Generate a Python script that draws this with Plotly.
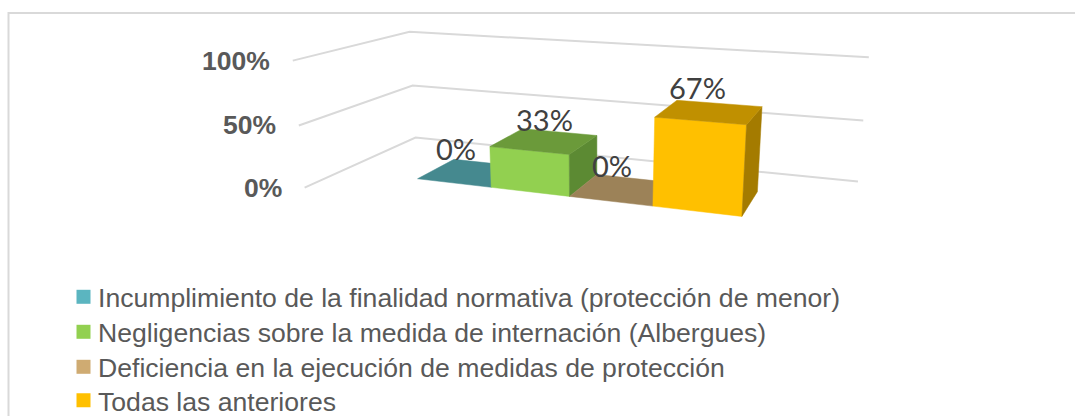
import numpy as np
import plotly.graph_objects as go

series = ["Incumplimiento de la finalidad normativa (protección de menor)",
          "Negligencias sobre la medida de internación (Albergues)",
          "Deficiencia en la ejecución de medidas de protección",
          "Todas las anteriores"]
values = [0, 33, 0, 67]
labels = ["0%", "33%", "0%", "67%"]
ticks = [0, 50, 100]
tick_text = ["0%", "50%", "100%"]
legend_colors = ["#5BB5C0", "#92D050", "#CFAB72", "#FFC000"]
front_colors = ["#5BB5C0", "#92D050", "#CFAB72", "#FFC000"]
top_colors = ["#45898F", "#6B9A3A", "#9C8258", "#C09000"]
side_colors = ["#3F7D82", "#5C8A33", "#8A7350", "#A47B00"]

# Camera of the 3-D chart: world (series position, depth, share of 100%) -> page pixels
CAMERA = np.array([[59.0387663, 70.6387438, -22.7892834, 417.5553495],
                   [2.989786, -7.4160847, -125.3985947, 178.7506934],
                   [-0.0297218, 0.0752771, -0.0386178, 1.0]])
XLO, XHI, YLO, YHI = -1.0694, 5.0743, -0.8408, 1.8878

def project(points):
    pts = np.array(points, dtype=float)
    h = CAMERA @ np.c_[pts, np.ones(len(pts))].T
    return h[0] / h[2], h[1] / h[2]

def polygon(points, color):
    x, y = project(points + points[:1])
    return go.Scatter(x=x, y=y, mode="lines", fill="toself", fillcolor=color,
                      line=dict(color=color, width=0.5), hoverinfo="skip", showlegend=False)

fig = go.Figure()
for t in ticks:
    z = t / 100
    x, y = project([(XLO, YLO, z), (XLO, YHI, z), (XHI, YHI, z)])
    fig.add_trace(go.Scatter(x=x, y=y, mode="lines", line=dict(color="#D9D9D9", width=2),
                             hoverinfo="skip", showlegend=False))
for i, v in enumerate(values):
    h = v / 100
    if h > 0:
        fig.add_trace(polygon([(i, 0, 0), (i + 1, 0, 0), (i + 1, 0, h), (i, 0, h)], front_colors[i]))
        fig.add_trace(polygon([(i + 1, 0, 0), (i + 1, 1, 0), (i + 1, 1, h), (i + 1, 0, h)], side_colors[i]))
    fig.add_trace(polygon([(i, 0, h), (i + 1, 0, h), (i + 1, 1, h), (i, 1, h)], top_colors[i]))

annotations = []
label_offsets = [(-16, -24), (0, -21), (-11, -24), (-12, -24)]
for i, v in enumerate(values):
    x, y = project([(i + .5, .5, v / 100)])
    annotations.append(dict(x=x[0], y=y[0], xref="x", yref="y", text=labels[i], showarrow=False,
                            xshift=label_offsets[i][0], yshift=-label_offsets[i][1],
                            font=dict(family="Lato", size=29, color="#404040")))
for t, s in zip(ticks, tick_text):
    x, y = project([(XLO, YLO, t / 100)])
    annotations.append(dict(x=x[0], y=y[0], xref="x", yref="y", text=s, showarrow=False,
                            xanchor="right", xshift=-21,
                            font=dict(family="Liberation Sans", size=26.5, color="#595959", weight="bold")))

legends = {}
for i, n in enumerate(series):
    key = "legend" if i == 0 else f"legend{i + 1}"
    fig.add_trace(go.Scatter(x=[None], y=[None], mode="markers", name=n, legend=key, showlegend=True,
                             marker=dict(symbol="square", size=14, color=legend_colors[i], angle=90, standoff=5.5)))
    legends[key] = dict(x=68 / 1075, y=1 - min(297 + 35 * i, 400.5) / 416, xanchor="left", yanchor="middle",
                        font=dict(family="Liberation Sans", size=26.6, color="#595959"),
                        indentation=-10, bgcolor="rgba(0,0,0,0)")

fig.update_layout(width=1075, height=416, margin=dict(l=0, r=0, t=0, b=0, autoexpand=False),
                  paper_bgcolor="white", plot_bgcolor="white",
                  xaxis=dict(visible=False, range=[0, 1075], domain=[0, 1]),
                  yaxis=dict(visible=False, range=[416, 0], domain=[0, 1]),
                  annotations=annotations,
                  shapes=[dict(type="line", xref="paper", yref="paper", x0=8.5 / 1075, x1=1, y0=1 - 13 / 416, y1=1 - 13 / 416,
                               line=dict(color="#D9D9D9", width=2)),
                          dict(type="line", xref="paper", yref="paper", x0=8.5 / 1075, x1=8.5 / 1075, y0=0, y1=1 - 12 / 416,
                               line=dict(color="#D9D9D9", width=2))],
                  **legends)
fig.write_html("out.html", post_script="document.body.style.margin='0';", config=dict(displayModeBar=False))
